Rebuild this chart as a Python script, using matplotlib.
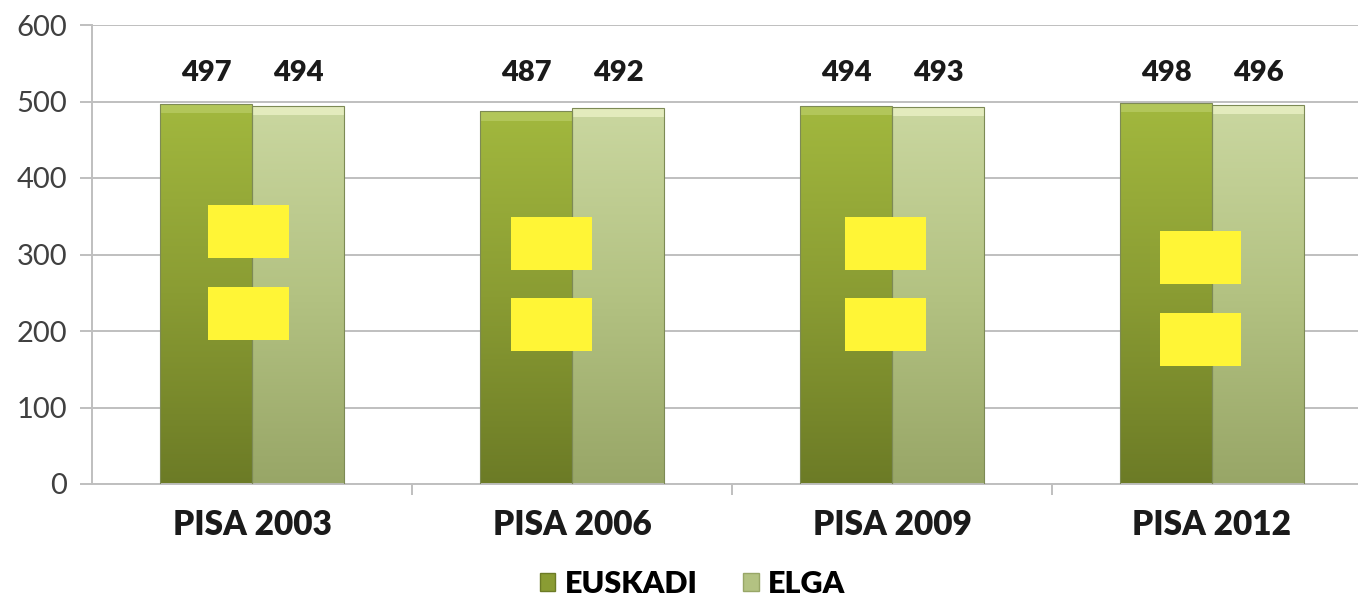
import numpy as np
import matplotlib.pyplot as plt
from matplotlib.colors import LinearSegmentedColormap
from matplotlib.patches import Rectangle

categories = ['PISA 2003', 'PISA 2006', 'PISA 2009', 'PISA 2012']
euskadi = [497, 487, 494, 498]
elga = [494, 492, 493, 496]
series_names = ['EUSKADI', 'ELGA']
# yellow cover boxes: (value bottom, value top) pairs per category, and x offset from group centre
boxes = [[(295, 365), (188, 257)],
         [(280, 349), (174, 243)],
         [(280, 349), (174, 243)],
         [(261, 331), (154, 224)]]
box_offset = [-0.01, -0.065, -0.02, -0.035]

plt.rcParams['font.family'] = ['Lato', 'DejaVu Sans']

fig = plt.figure(figsize=(13.58, 6.04), dpi=100)
ax = fig.add_axes([92 / 1358, 1 - 484 / 604, 1280 / 1358, (484 - 25) / 604])

x = np.arange(len(categories))
w = 0.287

cm_dark = LinearSegmentedColormap.from_list('d', ['#6c7b26', '#8a9c33', '#a2b83e'])
cm_light = LinearSegmentedColormap.from_list('l', ['#98a667', '#b3c282', '#cad7a0'])
grad = np.linspace(0, 1, 256).reshape(-1, 1)

def grad_bars(xs, vals, cmap, top_col):
    bars = ax.bar(xs, vals, w, color='none', edgecolor='#7d8a55', linewidth=0.8, zorder=3)
    for b in bars:
        x0, y0 = b.get_x(), b.get_y()
        h = b.get_height()
        im = ax.imshow(grad, extent=[x0, x0 + w, y0, y0 + h], origin='lower',
                       cmap=cmap, aspect='auto', zorder=2)
        im.set_clip_path(b)
        ax.add_patch(Rectangle((x0, h - 12), w, 12, color=top_col, zorder=2.5, lw=0))
    return bars

b1 = grad_bars(x - w / 2, euskadi, cm_dark, '#b2c65a')
b2 = grad_bars(x + w / 2, elga, cm_light, '#e3ebbd')

for bars, vals in [(b1, euskadi), (b2, elga)]:
    for b, v in zip(bars, vals):
        ax.text(b.get_x() + w / 2, 520, str(v), ha='center', va='bottom',
                fontsize=21, fontweight='heavy', color='#1a1a1a')

for i, pair in enumerate(boxes):
    for lo, hi in pair:
        ax.add_patch(Rectangle((x[i] + box_offset[i] - 0.127, lo), 0.254, hi - lo,
                               color='#fff536', lw=0, zorder=4))

ax.set_xlim(-0.5, len(categories) - 0.5)
ax.set_ylim(0, 600)
ax.set_yticks(range(0, 601, 100))
ax.grid(axis='y', color='#bfbfbf', linewidth=1.4, zorder=0)
ax.set_axisbelow(True)
for s in ['top', 'right']:
    ax.spines[s].set_visible(False)
ax.spines['left'].set_color('#bfbfbf')
ax.spines['bottom'].set_color('#bfbfbf')
ax.spines['left'].set_linewidth(1.4)
ax.spines['bottom'].set_linewidth(1.4)
ax.tick_params(axis='y', colors='#bfbfbf', labelcolor='#404040', labelsize=21, length=9, width=1.4, pad=9)
ax.set_xticks(x)
ax.set_xticklabels(categories, fontsize=24, fontweight='heavy', color='#1a1a1a')
ax.tick_params(axis='x', length=0, pad=18)
ax.set_xticks(np.arange(0.5, len(categories) - 0.5), minor=True)
ax.tick_params(axis='x', which='minor', length=8, width=1.4, color='#bfbfbf')

handles = [Rectangle((0, 0), 1, 1, facecolor='#8a9c33', edgecolor='#6c7b26'),
           Rectangle((0, 0), 1, 1, facecolor='#b3c282', edgecolor='#98a667')]
fig.legend(handles, series_names, loc='lower center', ncol=2, frameon=False,
           bbox_to_anchor=(0.51, -0.035), prop={'size': 22, 'weight': 'heavy'},
           handlelength=0.5, handleheight=0.5, handletextpad=0.3, columnspacing=1.5)

fig.savefig('out.png', dpi=100)
